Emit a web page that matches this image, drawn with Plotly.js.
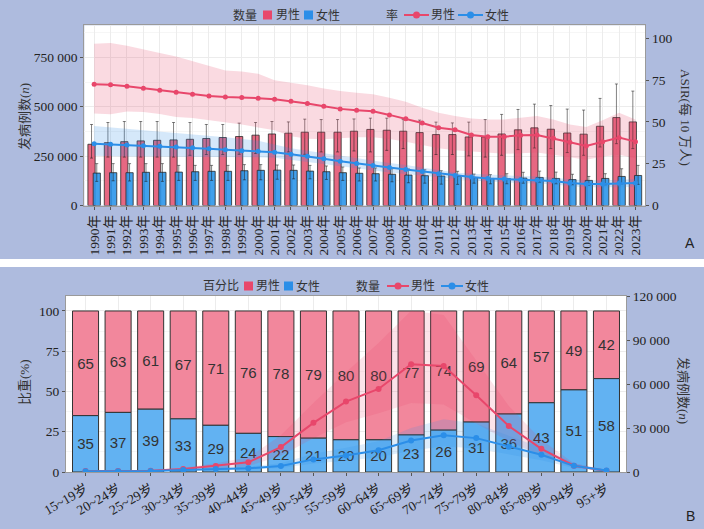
<!DOCTYPE html>
<html>
<head>
<meta charset="utf-8">
<script src="https://cdn.plot.ly/plotly-3.0.1.min.js"></script>
<style>
  html, body { margin: 0; padding: 0; }
  #plot { width: 704px; height: 529px; }
</style>
</head>
<body>
<div id="plot"></div>
<script>
// ---- 数据 A：1990-2023 年发病例数与 ASIR ----
const years = ['1990年','1991年','1992年','1993年','1994年','1995年','1996年','1997年','1998年','1999年',
  '2000年','2001年','2002年','2003年','2004年','2005年','2006年','2007年','2008年','2009年',
  '2010年','2011年','2012年','2013年','2014年','2015年','2016年','2017年','2018年','2019年',
  '2020年','2021年','2022年','2023年'];

const maleCount = [310000,318000,323000,327000,330000,332000,335000,339000,344000,349000,
  356000,362000,366000,371000,371000,371000,376000,385000,381000,376000,
  369000,359000,359000,347000,347000,362000,383000,393000,386000,367000,
  361000,401000,445000,423000];
const maleCountHi = [410000,420000,425000,425000,425000,420000,420000,410000,410000,417000,
  420000,425000,423000,437000,435000,435000,438000,442000,442000,435000,
  432000,422000,418000,422000,435000,461000,486000,513000,506000,488000,
  483000,542000,615000,579000];
const maleCountLo = [240000,245000,245000,245000,245000,245000,254000,258000,258000,259000,
  263000,270000,271000,259000,271000,271000,276000,271000,279000,288000,
  276000,258000,258000,251000,245000,254000,283000,291000,288000,268000,
  254000,296000,313000,288000];

const femaleCount = [164000,166000,166000,168000,168000,169000,171000,173000,173000,176000,
  178000,179000,178000,174000,171000,166000,163000,161000,158000,154000,
  151000,149000,147000,141000,137000,136000,139000,142000,137000,131000,
  127000,137000,147000,152000];
const femaleCountHi = [212000,212000,212000,212000,212000,203000,203000,203000,203000,207000,
  207000,205000,205000,203000,200000,195000,190000,190000,186000,185000,
  181000,176000,173000,159000,156000,161000,168000,174000,169000,158000,
  147000,161000,186000,203000];
const femaleCountLo = [122000,125000,124000,122000,122000,127000,127000,127000,127000,130000,
  130000,133000,135000,135000,132000,127000,124000,124000,120000,115000,
  113000,108000,107000,113000,110000,110000,113000,118000,110000,105000,
  103000,105000,110000,107000];

const maleRate = [72.5,72.3,71.3,70.1,68.9,67.7,66.5,65.5,64.9,64.6,
  64.2,63.5,62.4,61.0,59.4,57.8,57.0,56.4,54.2,51.9,
  49.3,46.5,45.3,42.2,41.2,41.2,42.0,42.2,40.2,37.8,
  35.6,38.2,40.6,38.2];
const maleRateHi = [96.7,97.2,95.6,93.6,91.3,89.1,86.3,83.3,80.8,80.2,
  78.8,75.0,73.5,72.0,70.0,68.5,67.5,66.5,64.5,62.0,
  58.5,55.5,53.5,52.0,51.5,51.5,52.5,53.5,51.5,48.5,
  47.0,51.0,55.5,51.5];
const maleRateLo = [55.0,54.6,56.2,56.0,54.8,53.0,52.3,51.1,49.9,48.5,
  46.7,45.0,41.5,40.0,39.6,40.2,40.8,40.8,39.8,38.2,
  36.2,34.3,33.0,32.3,31.3,30.9,31.3,31.7,30.3,28.7,
  27.3,29.3,30.3,28.3];

const femaleRate = [37.0,36.6,36.2,35.8,35.5,35.0,34.6,34.0,33.4,32.8,
  32.5,31.9,30.7,29.5,27.9,26.5,25.1,23.9,22.7,21.6,
  20.4,19.0,18.0,17.0,16.2,15.8,15.4,15.3,14.7,13.5,
  12.9,12.9,13.3,13.5];
const femaleRateHi = [47.5,46.7,45.5,44.7,43.9,43.2,42.3,41.6,40.8,39.8,
  38.8,36.5,34.3,32.8,31.3,29.7,28.3,26.9,25.4,24.2,
  22.6,21.0,19.8,19.0,18.4,18.0,17.6,17.4,16.6,15.6,
  15.0,15.0,15.4,15.8];
const femaleRateLo = [29.7,29.3,29.3,29.3,29.3,29.3,29.2,29.1,29.1,29.0,
  28.9,28.6,27.3,26.0,24.8,23.4,22.0,20.8,19.8,18.8,
  17.8,17.0,15.8,15.0,14.3,13.9,13.5,13.1,12.7,11.5,
  10.9,10.9,11.1,11.1];

// ---- 数据 B：年龄组构成与发病例数 ----
const ages = ['15~19岁','20~24岁','25~29岁','30~34岁','35~39岁','40~44岁','45~49岁','50~54岁',
  '55~59岁','60~64岁','65~69岁','70~74岁','75~79岁','80~84岁','85~89岁','90~94岁','95+岁'];
const maleShare = [65,63,61,67,71,76,78,79,80,80,77,74,69,64,57,49,42];
const femaleShare = [35,37,39,33,29,24,22,21,20,20,23,26,31,36,43,51,58];

const maleCases = [700,700,900,2000,4100,6600,17000,33500,48000,56600,73500,72300,52400,31400,15800,4300,900];
const maleCasesHi = [1000,1000,1300,2900,6000,10000,25000,47000,68000,88000,110000,107000,76000,45000,22000,6000,1300];
const maleCasesLo = [400,400,500,1200,2500,4000,11000,23000,34000,40000,47000,46000,33000,21000,11000,3000,500];
const femaleCases = [500,500,600,1400,2000,2500,4100,8600,11300,14900,21500,25100,23100,17300,11800,4200,1000];
const femaleCasesHi = [700,700,900,2000,2900,3700,6000,12500,16500,21000,30000,36000,33000,24500,16500,6000,1400];
const femaleCasesLo = [300,300,400,900,1300,1700,2700,5800,7700,10000,14500,17500,16000,12000,8000,2800,600];

// ---- 样式 ----
const RED = '#e8476b';
const BLUE = '#2b8ee8';
const BAR_RED = 'rgba(226,78,108,0.85)';
const BAR_BLUE = 'rgba(44,150,234,0.9)';
const SERIF = 'Liberation Serif, Noto Sans CJK SC, serif';
const SANS = 'Liberation Sans, Arial, sans-serif';
const W = 704, H = 529;
const px = v => v / W;          // 像素 -> paper x
const py = v => 1 - v / H;      // 像素 -> paper y

const diff = (a, b) => a.map((v, i) => v - b[i]);

// 置信带：先画下界，再用 tonexty 填到上界
function ribbon(x, lo, hi, color, xa, ya) {
  return [
    { type: 'scatter', mode: 'lines', x: x, y: lo, xaxis: xa, yaxis: ya,
      line: { width: 0, color: color }, hoverinfo: 'skip' },
    { type: 'scatter', mode: 'lines', x: x, y: hi, xaxis: xa, yaxis: ya,
      line: { width: 0, color: color }, fill: 'tonexty', fillcolor: color, hoverinfo: 'skip' }
  ];
}

const errStyle = { color: 'rgba(30,30,30,0.55)', thickness: 1, width: 1.5 };
const labelFont = { family: SANS, size: 15, color: '#333' };

const traces = [
  // A：柱（发病例数）
  { type: 'bar', x: years, y: maleCount, xaxis: 'x', yaxis: 'y', offset: -0.38, width: 0.44,
    marker: { color: BAR_RED, line: { color: '#2a2a2a', width: 0.8 } },
    error_y: Object.assign({ type: 'data', symmetric: false,
      array: diff(maleCountHi, maleCount), arrayminus: diff(maleCount, maleCountLo) }, errStyle) },
  { type: 'bar', x: years, y: femaleCount, xaxis: 'x', yaxis: 'y', offset: -0.06, width: 0.44,
    marker: { color: BAR_BLUE, line: { color: '#2a2a2a', width: 0.8 } },
    error_y: Object.assign({ type: 'data', symmetric: false,
      array: diff(femaleCountHi, femaleCount), arrayminus: diff(femaleCount, femaleCountLo) }, errStyle) },
  // A：率（ASIR）
  ...ribbon(years, maleRateLo, maleRateHi, 'rgba(232,71,107,0.2)', 'x', 'y2'),
  ...ribbon(years, femaleRateLo, femaleRateHi, 'rgba(43,142,232,0.2)', 'x', 'y2'),
  { type: 'scatter', mode: 'lines+markers', x: years, y: maleRate, xaxis: 'x', yaxis: 'y2',
    line: { color: RED, width: 2 }, marker: { color: RED, size: 5 } },
  { type: 'scatter', mode: 'lines+markers', x: years, y: femaleRate, xaxis: 'x', yaxis: 'y2',
    line: { color: BLUE, width: 2 }, marker: { color: BLUE, size: 5 } },

  // B：百分比堆叠柱（女性在下，男性叠在上面）
  { type: 'bar', x: ages, y: maleShare, base: femaleShare, xaxis: 'x3', yaxis: 'y3', width: 0.8,
    marker: { color: '#f2879c', line: { color: '#333', width: 1 } },
    text: maleShare.map(String), textposition: 'inside', insidetextanchor: 'middle',
    textangle: 0, insidetextfont: labelFont },
  { type: 'bar', x: ages, y: femaleShare, xaxis: 'x3', yaxis: 'y3', width: 0.8,
    marker: { color: '#62b2f2', line: { color: '#333', width: 1 } },
    text: femaleShare.map(String), textposition: 'inside', insidetextanchor: 'middle',
    textangle: 0, insidetextfont: labelFont },
  // B：发病例数
  ...ribbon(ages, maleCasesLo, maleCasesHi, 'rgba(232,60,100,0.14)', 'x3', 'y4'),
  ...ribbon(ages, femaleCasesLo, femaleCasesHi, 'rgba(43,142,232,0.16)', 'x3', 'y4'),
  { type: 'scatter', mode: 'lines+markers', x: ages, y: maleCases, xaxis: 'x3', yaxis: 'y4',
    line: { color: RED, width: 2 }, marker: { color: RED, size: 6 } },
  { type: 'scatter', mode: 'lines+markers', x: ages, y: femaleCases, xaxis: 'x3', yaxis: 'y4',
    line: { color: BLUE, width: 2 }, marker: { color: BLUE, size: 6 } }
];
traces.forEach(t => { t.showlegend = false; });

// ---- 图例（ggplot 式紧凑横排，手工摆放） ----
const legendShapes = [];
const legendTexts = [];
function legText(t, x, y) {
  legendTexts.push({ text: t, x: px(x), y: py(y), xref: 'paper', yref: 'paper',
    xanchor: 'center', yanchor: 'middle', showarrow: false,
    font: { family: SERIF, size: 12, color: '#333' } });
}
function legSquare(color, x0, x1, y) {
  legendShapes.push({ type: 'rect', xref: 'paper', yref: 'paper',
    x0: px(x0), x1: px(x1), y0: py(y + 4.5), y1: py(y - 4.5),
    fillcolor: color, line: { width: 0 } });
}
function legLine(color, x0, x1, y) {
  const xm = (x0 + x1) / 2;
  legendShapes.push({ type: 'line', xref: 'paper', yref: 'paper',
    x0: px(x0), x1: px(x1), y0: py(y), y1: py(y), line: { color: color, width: 2 } });
  legendShapes.push({ type: 'circle', xref: 'paper', yref: 'paper',
    x0: px(xm - 3.5), x1: px(xm + 3.5), y0: py(y + 3.5), y1: py(y - 3.5),
    fillcolor: color, line: { width: 0 } });
}
// A 图例
legText('数量', 245, 15);
legSquare(RED, 263, 272, 15);  legText('男性', 288, 15);
legSquare(BLUE, 304, 313, 15); legText('女性', 328, 15);
legText('率', 392, 15);
legLine(RED, 404, 429, 15);    legText('男性', 443, 15);
legLine(BLUE, 458, 483, 15);   legText('女性', 497, 15);
// B 图例
legText('百分比', 221, 286);
legSquare(RED, 244, 253, 286);  legText('男性', 268, 286);
legSquare(BLUE, 284, 293, 286); legText('女性', 308, 286);
legText('数量', 368, 286);
legLine(RED, 387, 409, 286);    legText('男性', 423, 286);
legLine(BLUE, 441, 463, 286);   legText('女性', 477, 286);

const baseAxis = {
  ticks: 'outside', ticklen: 3, tickcolor: '#555',
  tickfont: { family: SERIF, size: 13.5, color: '#222' },
  showline: true, linecolor: '#9a9a9a', linewidth: 1, zeroline: false
};

function axisTitle(t, x, y, angle) {
  return { text: t, x: px(x), y: py(y), xref: 'paper', yref: 'paper',
    xanchor: 'center', yanchor: 'middle', textangle: angle, showarrow: false,
    font: { family: SERIF, size: 13, color: '#333' } };
}

const layout = {
  width: W, height: H,
  margin: { l: 0, r: 0, t: 0, b: 0 },
  paper_bgcolor: '#aebbde',
  plot_bgcolor: '#ffffff',
  barmode: 'overlay',
  separators: '. ',
  font: { family: SERIF, color: '#222' },
  showlegend: false,

  xaxis: Object.assign({}, baseAxis, {
    domain: [px(84.3), px(645.3)], anchor: 'y', type: 'category',
    range: [-0.6, 33.6], tickangle: -90, mirror: true,
    tickmode: 'linear', tick0: 0, dtick: 1,
    tickfont: { family: SERIF, size: 13.5, color: '#222' },
    showgrid: true, gridcolor: '#ececec'
  }),
  yaxis: Object.assign({}, baseAxis, {
    domain: [py(205.5), py(25.3)], anchor: 'x',
    range: [0, 912000], tickmode: 'linear', tick0: 0, dtick: 250000, tickformat: ',d',
    showgrid: true, gridcolor: '#ececec', mirror: true,
    minor: { dtick: 125000, showgrid: true, gridcolor: '#f6f6f6', ticks: '' }
  }),
  yaxis2: Object.assign({}, baseAxis, {
    overlaying: 'y', side: 'right', anchor: 'x',
    range: [0, 107.8], tickmode: 'linear', tick0: 0, dtick: 25, showgrid: false
  }),

  xaxis3: Object.assign({}, baseAxis, {
    domain: [px(66), px(626)], anchor: 'y3', type: 'category',
    range: [-0.6, 16.6], tickangle: -30, mirror: true,
    tickmode: 'linear', tick0: 0, dtick: 1,
    showgrid: true, gridcolor: '#ececec'
  }),
  yaxis3: Object.assign({}, baseAxis, {
    domain: [py(472), py(296)], anchor: 'x3',
    range: [0, 109.3], tickmode: 'linear', tick0: 0, dtick: 25,
    showgrid: true, gridcolor: '#ececec', mirror: true,
    minor: { dtick: 12.5, showgrid: true, gridcolor: '#f6f6f6', ticks: '' }
  }),
  yaxis4: Object.assign({}, baseAxis, {
    overlaying: 'y3', side: 'right', anchor: 'x3',
    range: [0, 120000], tickmode: 'linear', tick0: 0, dtick: 30000, tickformat: ',d',
    showgrid: false
  }),

  shapes: [
    { type: 'rect', xref: 'paper', yref: 'paper', x0: 0, x1: 1, y0: py(267), y1: py(259),
      fillcolor: '#ffffff', line: { width: 0 }, layer: 'below' }
  ].concat(legendShapes),

  annotations: [
    axisTitle('发病例数(<i>n</i>)', 24, 117, -90),
    axisTitle('ASIR(每 10 万人)', 686, 117, 90),
    axisTitle('比重(%)', 24, 382, -90),
    axisTitle('发病例数(<i>n</i>)', 684, 390, 90),
    { text: 'A', x: px(690), y: py(243), xref: 'paper', yref: 'paper',
      xanchor: 'center', yanchor: 'middle', showarrow: false,
      font: { family: SANS, size: 14, color: '#222' } },
    { text: 'B', x: px(690), y: py(516), xref: 'paper', yref: 'paper',
      xanchor: 'center', yanchor: 'middle', showarrow: false,
      font: { family: SANS, size: 14, color: '#222' } }
  ].concat(legendTexts)
};

Plotly.newPlot('plot', traces, layout, { staticPlot: true, displayModeBar: false });
</script>
</body>
</html>
